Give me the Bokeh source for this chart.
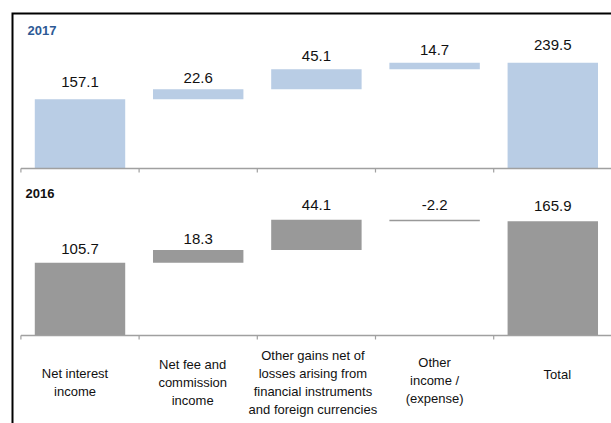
from bokeh.plotting import figure
from bokeh.models import Range1d
from bokeh.core.properties import value
from bokeh.embed import file_html
from bokeh.resources import INLINE

# ---- data -------------------------------------------------------------
categories = [
    "Net interest\nincome",
    "Net fee and\ncommission\nincome",
    "Other gains net of\nlosses arising from\nfinancial instruments\nand foreign currencies",
    "Other\nincome /\n(expense)",
    "Total",
]
steps_2017 = [157.1, 22.6, 45.1, 14.7]
total_2017 = 239.5
steps_2016 = [105.7, 18.3, 44.1, -2.2]
total_2016 = 165.9

# ---- layout (pixels) --------------------------------------------------
W, H = 611, 423
CAT_W = 118.2          # pixel width of one category slot
CAT0 = 79.5            # pixel centre of the first category
BASE_17, PPU_17 = 168.0, 0.4413   # baseline (px from top), px per unit
BASE_16, PPU_16 = 335.0, 0.689
BAR_W = 0.765
FONT = value("Liberation Sans")
BLUE = "#B9CDE5"
GREY = "#999999"
AXIS = "#A0A0A0"

x_start = -CAT0 / CAT_W
x_end = (W - CAT0) / CAT_W


def px_x(px):
    return (px - CAT0) / CAT_W


def py_17(py):
    return (BASE_17 - py) / PPU_17


def py_16(py):
    return (BASE_16 - py) / PPU_16


def waterfall(steps, total):
    bottoms, tops = [], []
    run = 0.0
    for s in steps:
        bottoms.append(run)
        run += s
        tops.append(run)
    bottoms.append(0.0)
    tops.append(total)
    return bottoms, tops


def fmt(v):
    return f"{v:.1f}"


p = figure(
    width=W, height=H,
    x_range=Range1d(x_start, x_end),
    y_range=Range1d(py_17(H), py_17(0)),
    x_axis_type=None, y_axis_type=None,
    output_backend="svg", toolbar_location=None,
    min_border=0,
)
p.extra_y_ranges = {"y16": Range1d(py_16(H), py_16(0))}
p.outline_line_color = None
p.background_fill_color = "white"
p.border_fill_color = "white"

xs = list(range(len(categories)))
bounds = [i - 0.5 for i in range(len(categories) + 1)]

# label gap (px) between the top of each bar and the middle of its value text
panels = [
    (steps_2017, total_2017, BLUE, "default", PPU_17, [16.7, 10.8, 12.9, 13.1, 18]),
    (steps_2016, total_2016, GREY, "y16", PPU_16, [13.2, 10.6, 14.7, 14.2, 15.2]),
]

for steps, total, color, rng, ppu, gaps in panels:
    bottoms, tops = waterfall(steps, total)
    p.vbar(x=xs, bottom=bottoms, top=tops, width=BAR_W,
           fill_color=color, line_color=None, y_range_name=rng)
    # baseline and category ticks
    p.segment(x0=[bounds[0]], y0=[0], x1=[x_end + 1], y1=[0],
              line_color=AXIS, line_width=1.5, y_range_name=rng)
    p.segment(x0=bounds, y0=[0] * len(bounds), x1=bounds,
              y1=[-4 / ppu] * len(bounds),
              line_color=AXIS, line_width=1.2, y_range_name=rng)
    vals = list(steps) + [total]
    ly = [max(b, t) + g / ppu for b, t, g in zip(bottoms, tops, gaps)]
    p.text(x=xs, y=ly, text=[fmt(v) for v in vals],
           text_align="center", text_baseline="middle",
           text_font=FONT, text_font_size="15px", text_color="#111111",
           y_range_name=rng)

# panel titles
p.text(x=[px_x(27)], y=[py_17(30)], text=["2017"], text_align="left",
       text_baseline="middle", text_font=FONT, text_font_size="13px",
       text_font_style="bold", text_color="#2D5A95")
p.text(x=[px_x(25)], y=[py_16(193)], text=["2016"], text_align="left",
       text_baseline="middle", text_font=FONT, text_font_size="13px",
       text_font_style="bold", text_color="#111111", y_range_name="y16")

# category labels below the lower axis (small per-label nudges in px)
label_dx = [-5, -5.5, -3.5, 0, 4.5]
label_dy = [0, 0, 0, -2, -8]
p.text(x=[i + dx / CAT_W for i, dx in zip(xs, label_dx)],
       y=[py_16(382 + d) for d in label_dy], text=categories,
       text_align="center", text_baseline="middle",
       text_font=FONT, text_font_size="13px", text_color="#111111",
       text_line_height=1.2, y_range_name="y16")

# frame on the left and top
p.line(x=[px_x(12), px_x(12), px_x(W + 5)],
       y=[py_17(H + 5), py_17(13), py_17(13)],
       line_color="black", line_width=2, line_join="miter")

open("out.html", "w").write(file_html(p, INLINE))
